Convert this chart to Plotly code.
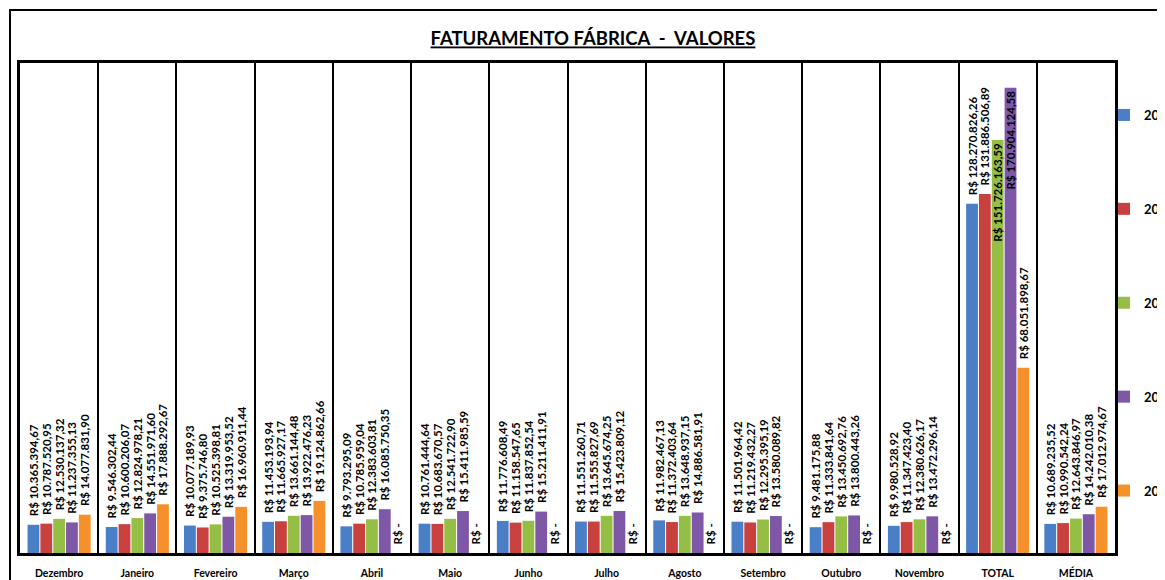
import plotly.graph_objects as go

categories = ["Dezembro", "Janeiro", "Fevereiro", "Março", "Abril", "Maio", "Junho",
              "Julho", "Agosto", "Setembro", "Outubro", "Novembro", "TOTAL", "MÉDIA"]

v2011 = [10365394.67, 9546302.44, 10077189.93, 11453193.94, 9793295.09, 10761444.64,
         11776608.49, 11551260.71, 11982467.13, 11501964.42, 9481175.88, 9980528.92,
         128270826.26, 10689235.52]
v2012 = [10787520.95, 10600206.07, 9375746.80, 11665927.17, 10785959.04, 10683670.57,
         11158547.65, 11555827.69, 11372403.64, 11219432.27, 11333841.64, 11347423.40,
         131886506.89, 10990542.24]
v2013 = [12530137.32, 12824978.21, 10525398.81, 13661144.48, 12383603.81, 12541722.90,
         11837852.54, 13645674.25, 13648937.15, 12295395.19, 13450692.76, 12380626.17,
         151726163.59, 12643846.97]
v2014 = [11237355.13, 14551971.60, 13319953.52, 13922476.23, 16085750.35, 15411985.59,
         15211411.91, 15423809.12, 14886581.91, 13580089.82, 13800443.26, 13472296.14,
         170904124.58, 14242010.38]
v2015 = [14077831.90, 17888292.67, 16960911.44, 19124862.66, 0, 0, 0, 0, 0, 0, 0, 0,
         68051898.67, 17012974.67]

series_names = ["2011", "2012", "2013", "2014", "2015"]
series_values = [v2011, v2012, v2013, v2014, v2015]
colors = ["#4A7EC6", "#C9413F", "#95BE45", "#7E58A6", "#F5902A"]

Y_MAX = 180e6


def brl(v):
    if v == 0:
        return "R$ -"
    s = f"{v:,.2f}"
    s = s.replace(",", "X").replace(".", ",").replace("X", ".")
    return "R$ " + s


label_font = dict(family="Lato", size=11.5, color="black", weight="bold")

fig = go.Figure()
for name, vals, col in zip(series_names, series_values, colors):
    positions = ["inside" if v > 0.8 * Y_MAX else "outside" for v in vals]
    texts = [brl(v) if p == "inside" else "\u00a0\u00a0" + brl(v)
             for v, p in zip(vals, positions)]
    fig.add_trace(go.Bar(
        x=categories, y=vals, name=name,
        marker=dict(color=col, line=dict(color=col, width=0)),
        text=texts,
        textposition=positions,
        insidetextanchor="end",
        textangle=-90,
        constraintext="none",
        cliponaxis=False,
        textfont=label_font,
        insidetextfont=label_font,
        outsidetextfont=label_font,
        legendgroup=name,
    ))

# page offset (browser body margin)
OFF = 8
W, H = 1165 - OFF, 580 - OFF
# plot area in screenshot pixels: x 20..1115, y 63..553
L = 20 - OFF
T = 63 - OFF
R = W - (1115 - OFF)
B = H - (553 - OFF)
pw, ph = W - L - R, H - T - B


def px_x(p):
    return (p - OFF - L) / pw


def px_y(p):
    return (H - B - (p - OFF)) / ph


fig.update_layout(
    width=W, height=H,
    margin=dict(l=L, r=R, t=T, b=B, autoexpand=False),
    paper_bgcolor="white", plot_bgcolor="white",
    barmode="group", bargap=0.18, bargroupgap=0.08,
    title=dict(text="<u>FATURAMENTO FÁBRICA  -  VALORES</u>",
               font=dict(family="Lato", size=18.5, color="black", weight="bold"),
               xref="paper", x=px_x(593), xanchor="center",
               yref="container", y=1 - (39 - OFF) / H, yanchor="middle"),
    xaxis=dict(tickson="boundaries", showgrid=True, gridcolor="black", gridwidth=2,
               showline=True, linecolor="black", linewidth=3, mirror=True,
               ticks="", ticklabelstandoff=8,
               tickfont=dict(family="Lato", size=10.5, color="black", weight="bold")),
    yaxis=dict(range=[0, Y_MAX], showticklabels=False, showgrid=False, zeroline=False,
               showline=True, linecolor="black", linewidth=3, mirror=True, ticks=""),
    legend=dict(x=px_x(1104), xanchor="left", y=px_y(100), yanchor="top",
                font=dict(family="Lato", size=13, color="black", weight="bold"),
                tracegroupgap=74, traceorder="grouped", bgcolor="rgba(0,0,0,0)"),
    showlegend=True,
    shapes=[dict(type="rect", xref="paper", yref="paper",
                 x0=px_x(10), x1=px_x(1230), y0=px_y(600), y1=px_y(10),
                 line=dict(color="black", width=2), fillcolor="rgba(0,0,0,0)", layer="below")],
)

fig.write_html("out.html")
